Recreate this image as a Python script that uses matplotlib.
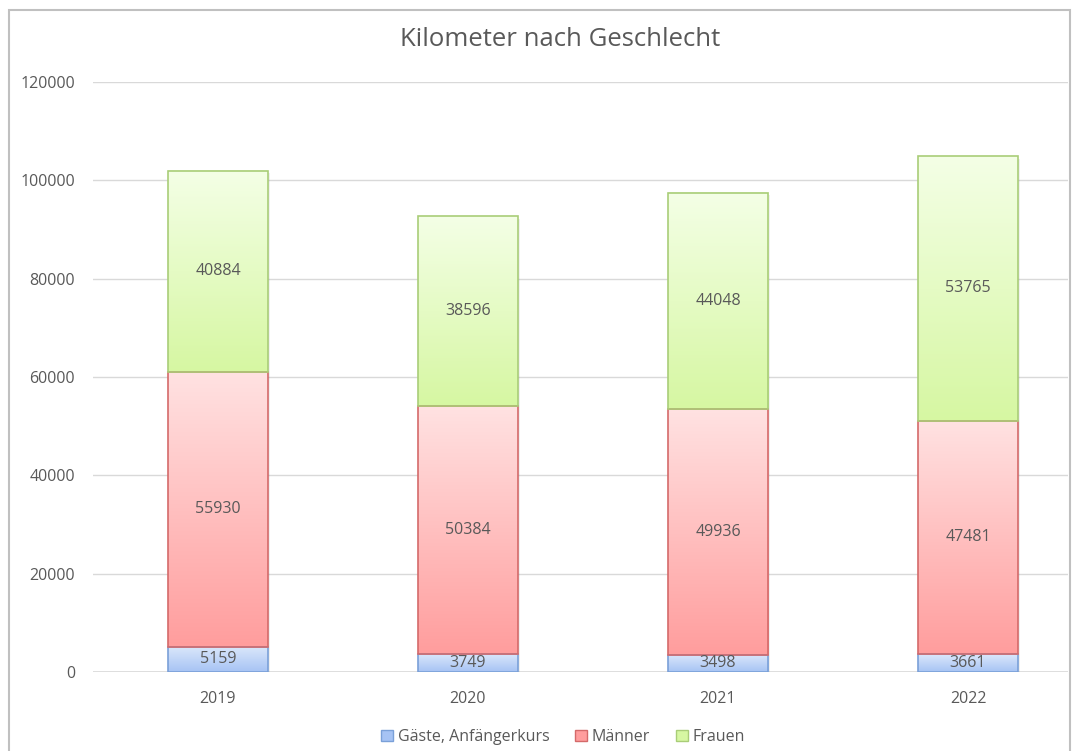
import matplotlib
matplotlib.use("Agg")
import matplotlib.pyplot as plt
import numpy as np
from matplotlib.colors import LinearSegmentedColormap
from matplotlib.patches import Rectangle

years = ["2019", "2020", "2021", "2022"]
gaeste = [5159, 3749, 3498, 3661]
maenner = [55930, 50384, 49936, 47481]
frauen = [40884, 38596, 44048, 53765]
series_names = ["Gäste, Anfängerkurs", "Männer", "Frauen"]
yticks = [0, 20000, 40000, 60000, 80000, 100000, 120000]

plt.rcParams['font.family'] = ['Open Sans', 'DejaVu Sans']

W, H = 1073, 751
fig = plt.figure(figsize=(W / 100, H / 100), dpi=100)
fig.patch.set_facecolor("white")

# chart frame
fig.patches.append(Rectangle((9 / W, -0.05), (1070 - 9) / W, (H - 10) / H + 0.05,
                             transform=fig.transFigure, fill=False,
                             edgecolor="#c0c0c0", linewidth=1.5))

ax = fig.add_axes([93 / W, (H - 672) / H, (1068 - 93) / W, (672 - 82) / H])
ax.set_xlim(-0.5, 3.4)
ax.set_ylim(0, 120000)
for s in ax.spines.values():
    s.set_visible(False)
ax.set_yticks(yticks)
ax.set_yticklabels([str(v) for v in yticks])
ax.yaxis.grid(True, color="#d9d9d9", linewidth=1)
ax.set_axisbelow(True)
ax.tick_params(axis="both", length=0, labelsize=11.5, colors="#595959")
ax.tick_params(axis="y", pad=13)
ax.tick_params(axis="x", pad=14)
ax.set_xticks(range(len(years)))
ax.set_xticklabels(years)
ax.axhline(0, color="#d9d9d9", linewidth=1.2, zorder=1)

styles = [
    ("#dce8fb", "#a6c3f4", "#7aa0d8"),
    ("#ffe2e2", "#ff9d9d", "#d46a6a"),
    ("#f4ffe6", "#d6f7a2", "#a9cd78"),
]
series = [gaeste, maenner, frauen]
width = 0.4

bottoms = np.zeros(len(years))
handles = []
for vals, (ctop, cbot, cedge), name in zip(series, styles, series_names):
    cmap = LinearSegmentedColormap.from_list("g", [cbot, ctop])
    bars = ax.bar(range(len(years)), vals, width, bottom=bottoms,
                  facecolor="none", edgecolor=cedge, linewidth=1.2, zorder=4)
    for b, v in zip(bars, vals):
        x0 = b.get_x()
        y0 = b.get_y()
        grad = np.linspace(0, 1, 256).reshape(-1, 1)
        ax.imshow(grad, cmap=cmap, origin="lower", aspect="auto",
                  extent=[x0, x0 + width, y0, y0 + v], zorder=3,
                  interpolation="bicubic")
        # subtle shadow
        ax.add_patch(Rectangle((x0 + 0.006, y0 - 500), width, v, facecolor="#000000",
                               alpha=0.06, edgecolor="none", zorder=2))
        ax.text(x0 + width / 2, y0 + v / 2, str(v), ha="center", va="center",
                fontsize=11.5, color="#595959", zorder=5)
    handles.append(Rectangle((0, 0), 1, 1, facecolor=cbot, edgecolor=cedge))
    bottoms = bottoms + np.array(vals)

ax.set_xlim(-0.5, 3.4)
ax.set_ylim(0, 120000)

fig.text(560 / W, 1 - 40 / H, "Kilometer nach Geschlecht", ha="center", va="center",
         fontsize=18.5, color="#595959")

fig.legend(handles, series_names, loc="center", bbox_to_anchor=(563 / W, 1 - 737 / H),
           ncol=3, frameon=False, fontsize=11.5, labelcolor="#595959",
           handlelength=0.75, handleheight=0.75, handletextpad=0.3, columnspacing=1.6)

fig.savefig("out.png", dpi=100, facecolor="white")
